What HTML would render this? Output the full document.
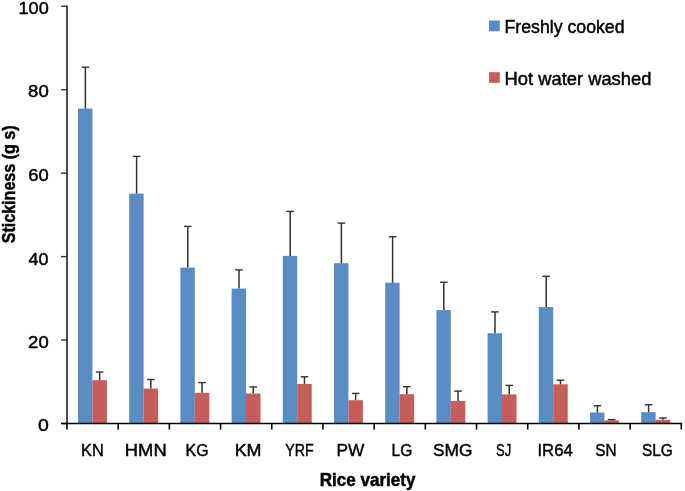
<!DOCTYPE html>
<html><head><meta charset="utf-8"><style>
html,body{margin:0;padding:0;background:#fff;overflow:hidden;}
svg{display:block;will-change:transform;}
.t{font-family:"Liberation Sans",sans-serif;fill:#000;stroke:#000;stroke-width:0.45px;}
.b{font-family:"Liberation Sans",sans-serif;font-weight:bold;fill:#000;stroke:#000;stroke-width:0.5px;}
</style></head><body>
<svg width="685" height="491" viewBox="0 0 685 491">
<rect x="78.00" y="108.60" width="14.40" height="314.90" fill="#588CC2"/>
<rect x="92.40" y="380.20" width="14.50" height="43.30" fill="#C65D59"/>
<rect x="129.20" y="193.60" width="14.40" height="229.90" fill="#588CC2"/>
<rect x="143.60" y="388.60" width="14.50" height="34.90" fill="#C65D59"/>
<rect x="180.40" y="267.60" width="14.40" height="155.90" fill="#588CC2"/>
<rect x="194.80" y="392.80" width="14.50" height="30.70" fill="#C65D59"/>
<rect x="231.60" y="288.60" width="14.40" height="134.90" fill="#588CC2"/>
<rect x="246.00" y="393.50" width="14.50" height="30.00" fill="#C65D59"/>
<rect x="282.80" y="255.90" width="14.40" height="167.60" fill="#588CC2"/>
<rect x="297.20" y="383.90" width="14.50" height="39.60" fill="#C65D59"/>
<rect x="334.00" y="263.20" width="14.40" height="160.30" fill="#588CC2"/>
<rect x="348.40" y="400.20" width="14.50" height="23.30" fill="#C65D59"/>
<rect x="385.20" y="282.70" width="14.40" height="140.80" fill="#588CC2"/>
<rect x="399.60" y="394.20" width="14.50" height="29.30" fill="#C65D59"/>
<rect x="436.40" y="310.10" width="14.40" height="113.40" fill="#588CC2"/>
<rect x="450.80" y="401.00" width="14.50" height="22.50" fill="#C65D59"/>
<rect x="487.60" y="333.30" width="14.40" height="90.20" fill="#588CC2"/>
<rect x="502.00" y="394.40" width="14.50" height="29.10" fill="#C65D59"/>
<rect x="538.80" y="307.10" width="14.40" height="116.40" fill="#588CC2"/>
<rect x="553.20" y="384.30" width="14.50" height="39.20" fill="#C65D59"/>
<rect x="590.00" y="412.50" width="14.40" height="11.00" fill="#588CC2"/>
<rect x="604.40" y="420.30" width="14.50" height="3.20" fill="#C65D59"/>
<rect x="641.20" y="412.10" width="14.40" height="11.40" fill="#588CC2"/>
<rect x="655.60" y="419.80" width="14.50" height="3.70" fill="#C65D59"/>
<line x1="85.40" y1="108.60" x2="85.40" y2="67.20" stroke="#333" stroke-width="1.5"/>
<line x1="81.60" y1="67.20" x2="89.20" y2="67.20" stroke="#333" stroke-width="1.4"/>
<line x1="99.65" y1="380.20" x2="99.65" y2="372.00" stroke="#333" stroke-width="1.5"/>
<line x1="95.85" y1="372.00" x2="103.45" y2="372.00" stroke="#333" stroke-width="1.4"/>
<line x1="136.60" y1="193.60" x2="136.60" y2="156.40" stroke="#333" stroke-width="1.5"/>
<line x1="132.80" y1="156.40" x2="140.40" y2="156.40" stroke="#333" stroke-width="1.4"/>
<line x1="150.85" y1="388.60" x2="150.85" y2="379.50" stroke="#333" stroke-width="1.5"/>
<line x1="147.05" y1="379.50" x2="154.65" y2="379.50" stroke="#333" stroke-width="1.4"/>
<line x1="187.80" y1="267.60" x2="187.80" y2="226.40" stroke="#333" stroke-width="1.5"/>
<line x1="184.00" y1="226.40" x2="191.60" y2="226.40" stroke="#333" stroke-width="1.4"/>
<line x1="202.05" y1="392.80" x2="202.05" y2="382.60" stroke="#333" stroke-width="1.5"/>
<line x1="198.25" y1="382.60" x2="205.85" y2="382.60" stroke="#333" stroke-width="1.4"/>
<line x1="239.00" y1="288.60" x2="239.00" y2="269.90" stroke="#333" stroke-width="1.5"/>
<line x1="235.20" y1="269.90" x2="242.80" y2="269.90" stroke="#333" stroke-width="1.4"/>
<line x1="253.25" y1="393.50" x2="253.25" y2="386.90" stroke="#333" stroke-width="1.5"/>
<line x1="249.45" y1="386.90" x2="257.05" y2="386.90" stroke="#333" stroke-width="1.4"/>
<line x1="290.20" y1="255.90" x2="290.20" y2="211.40" stroke="#333" stroke-width="1.5"/>
<line x1="286.40" y1="211.40" x2="294.00" y2="211.40" stroke="#333" stroke-width="1.4"/>
<line x1="304.45" y1="383.90" x2="304.45" y2="376.80" stroke="#333" stroke-width="1.5"/>
<line x1="300.65" y1="376.80" x2="308.25" y2="376.80" stroke="#333" stroke-width="1.4"/>
<line x1="341.40" y1="263.20" x2="341.40" y2="223.10" stroke="#333" stroke-width="1.5"/>
<line x1="337.60" y1="223.10" x2="345.20" y2="223.10" stroke="#333" stroke-width="1.4"/>
<line x1="355.65" y1="400.20" x2="355.65" y2="393.40" stroke="#333" stroke-width="1.5"/>
<line x1="351.85" y1="393.40" x2="359.45" y2="393.40" stroke="#333" stroke-width="1.4"/>
<line x1="392.60" y1="282.70" x2="392.60" y2="236.80" stroke="#333" stroke-width="1.5"/>
<line x1="388.80" y1="236.80" x2="396.40" y2="236.80" stroke="#333" stroke-width="1.4"/>
<line x1="406.85" y1="394.20" x2="406.85" y2="386.70" stroke="#333" stroke-width="1.5"/>
<line x1="403.05" y1="386.70" x2="410.65" y2="386.70" stroke="#333" stroke-width="1.4"/>
<line x1="443.80" y1="310.10" x2="443.80" y2="282.20" stroke="#333" stroke-width="1.5"/>
<line x1="440.00" y1="282.20" x2="447.60" y2="282.20" stroke="#333" stroke-width="1.4"/>
<line x1="458.05" y1="401.00" x2="458.05" y2="391.10" stroke="#333" stroke-width="1.5"/>
<line x1="454.25" y1="391.10" x2="461.85" y2="391.10" stroke="#333" stroke-width="1.4"/>
<line x1="495.00" y1="333.30" x2="495.00" y2="311.90" stroke="#333" stroke-width="1.5"/>
<line x1="491.20" y1="311.90" x2="498.80" y2="311.90" stroke="#333" stroke-width="1.4"/>
<line x1="509.25" y1="394.40" x2="509.25" y2="385.40" stroke="#333" stroke-width="1.5"/>
<line x1="505.45" y1="385.40" x2="513.05" y2="385.40" stroke="#333" stroke-width="1.4"/>
<line x1="546.20" y1="307.10" x2="546.20" y2="276.30" stroke="#333" stroke-width="1.5"/>
<line x1="542.40" y1="276.30" x2="550.00" y2="276.30" stroke="#333" stroke-width="1.4"/>
<line x1="560.45" y1="384.30" x2="560.45" y2="380.20" stroke="#333" stroke-width="1.5"/>
<line x1="556.65" y1="380.20" x2="564.25" y2="380.20" stroke="#333" stroke-width="1.4"/>
<line x1="597.40" y1="412.50" x2="597.40" y2="405.70" stroke="#333" stroke-width="1.5"/>
<line x1="593.60" y1="405.70" x2="601.20" y2="405.70" stroke="#333" stroke-width="1.4"/>
<line x1="611.65" y1="420.30" x2="611.65" y2="419.60" stroke="#333" stroke-width="1.5"/>
<line x1="607.85" y1="419.60" x2="615.45" y2="419.60" stroke="#333" stroke-width="1.4"/>
<line x1="648.60" y1="412.10" x2="648.60" y2="404.80" stroke="#333" stroke-width="1.5"/>
<line x1="644.80" y1="404.80" x2="652.40" y2="404.80" stroke="#333" stroke-width="1.4"/>
<line x1="662.85" y1="419.80" x2="662.85" y2="418.00" stroke="#333" stroke-width="1.5"/>
<line x1="659.05" y1="418.00" x2="666.65" y2="418.00" stroke="#333" stroke-width="1.4"/>
<line x1="67.0" y1="5.6" x2="67.0" y2="423.5" stroke="#4d4d4d" stroke-width="2"/>
<line x1="61" y1="423.50" x2="67.0" y2="423.50" stroke="#333" stroke-width="1.4"/>
<line x1="61" y1="340.06" x2="67.0" y2="340.06" stroke="#333" stroke-width="1.4"/>
<line x1="61" y1="256.62" x2="67.0" y2="256.62" stroke="#333" stroke-width="1.4"/>
<line x1="61" y1="173.18" x2="67.0" y2="173.18" stroke="#333" stroke-width="1.4"/>
<line x1="61" y1="89.74" x2="67.0" y2="89.74" stroke="#333" stroke-width="1.4"/>
<line x1="61" y1="6.30" x2="67.0" y2="6.30" stroke="#333" stroke-width="1.4"/>
<line x1="61" y1="423.5" x2="682.0999999999999" y2="423.5" stroke="#000" stroke-width="1.5"/>
<line x1="67.00" y1="423.5" x2="67.00" y2="429.5" stroke="#000" stroke-width="1.6"/>
<line x1="118.19" y1="423.5" x2="118.19" y2="429.5" stroke="#000" stroke-width="1.6"/>
<line x1="169.38" y1="423.5" x2="169.38" y2="429.5" stroke="#000" stroke-width="1.6"/>
<line x1="220.57" y1="423.5" x2="220.57" y2="429.5" stroke="#000" stroke-width="1.6"/>
<line x1="271.77" y1="423.5" x2="271.77" y2="429.5" stroke="#000" stroke-width="1.6"/>
<line x1="322.96" y1="423.5" x2="322.96" y2="429.5" stroke="#000" stroke-width="1.6"/>
<line x1="374.15" y1="423.5" x2="374.15" y2="429.5" stroke="#000" stroke-width="1.6"/>
<line x1="425.34" y1="423.5" x2="425.34" y2="429.5" stroke="#000" stroke-width="1.6"/>
<line x1="476.53" y1="423.5" x2="476.53" y2="429.5" stroke="#000" stroke-width="1.6"/>
<line x1="527.72" y1="423.5" x2="527.72" y2="429.5" stroke="#000" stroke-width="1.6"/>
<line x1="578.92" y1="423.5" x2="578.92" y2="429.5" stroke="#000" stroke-width="1.6"/>
<line x1="630.11" y1="423.5" x2="630.11" y2="429.5" stroke="#000" stroke-width="1.6"/>
<line x1="681.30" y1="423.5" x2="681.30" y2="429.5" stroke="#000" stroke-width="1.6"/>
<rect x="489" y="20.5" width="10.8" height="10.8" fill="#588CC2"/>
<rect x="489" y="72.2" width="10.8" height="10.6" fill="#C65D59"/>
<text x="80.99" y="455.60" class="t" font-size="17.40" textLength="22.77" lengthAdjust="spacingAndGlyphs">KN</text>
<text x="124.81" y="455.60" class="t" font-size="17.40" textLength="41.89" lengthAdjust="spacingAndGlyphs">HMN</text>
<text x="185.61" y="455.60" class="t" font-size="17.40" textLength="22.93" lengthAdjust="spacingAndGlyphs">KG</text>
<text x="234.68" y="455.60" class="t" font-size="17.40" textLength="26.85" lengthAdjust="spacingAndGlyphs">KM</text>
<text x="285.24" y="455.60" class="t" font-size="17.40" textLength="28.40" lengthAdjust="spacingAndGlyphs">YRF</text>
<text x="336.47" y="455.60" class="t" font-size="17.40" textLength="27.79" lengthAdjust="spacingAndGlyphs">PW</text>
<text x="391.52" y="455.60" class="t" font-size="17.40" textLength="20.73" lengthAdjust="spacingAndGlyphs">LG</text>
<text x="433.08" y="455.60" class="t" font-size="17.40" textLength="39.39" lengthAdjust="spacingAndGlyphs">SMG</text>
<text x="496.03" y="455.60" class="t" font-size="17.40" textLength="15.09" lengthAdjust="spacingAndGlyphs">SJ</text>
<text x="537.44" y="455.60" class="t" font-size="17.40" textLength="35.25" lengthAdjust="spacingAndGlyphs">IR64</text>
<text x="595.25" y="455.60" class="t" font-size="17.40" textLength="21.26" lengthAdjust="spacingAndGlyphs">SN</text>
<text x="641.97" y="455.60" class="t" font-size="17.40" textLength="30.86" lengthAdjust="spacingAndGlyphs">SLG</text>
<text x="18.57" y="14.16" class="t" font-size="17.40" textLength="30.16" lengthAdjust="spacingAndGlyphs">100</text>
<text x="28.13" y="97.29" class="t" font-size="17.40" textLength="20.65" lengthAdjust="spacingAndGlyphs">80</text>
<text x="28.38" y="181.07" class="t" font-size="17.40" textLength="20.43" lengthAdjust="spacingAndGlyphs">60</text>
<text x="28.64" y="264.58" class="t" font-size="17.40" textLength="19.90" lengthAdjust="spacingAndGlyphs">40</text>
<text x="28.14" y="347.92" class="t" font-size="17.40" textLength="20.51" lengthAdjust="spacingAndGlyphs">20</text>
<text x="38.09" y="431.23" class="t" font-size="17.40" textLength="10.81" lengthAdjust="spacingAndGlyphs">0</text>
<text x="504.56" y="32.84" class="t" font-size="17.60" textLength="119.99" lengthAdjust="spacingAndGlyphs">Freshly cooked</text>
<text x="504.61" y="85.30" class="t" font-size="17.60" textLength="146.78" lengthAdjust="spacingAndGlyphs">Hot water washed</text>
<text x="319.82" y="486.31" class="b" font-size="17.90" textLength="95.66" lengthAdjust="spacingAndGlyphs">Rice variety</text>
<text transform="translate(15.20,243.32) rotate(-90)" class="b" font-size="18.80" textLength="117.97" lengthAdjust="spacingAndGlyphs">Stickiness (g s)</text>
</svg>
</body></html>
